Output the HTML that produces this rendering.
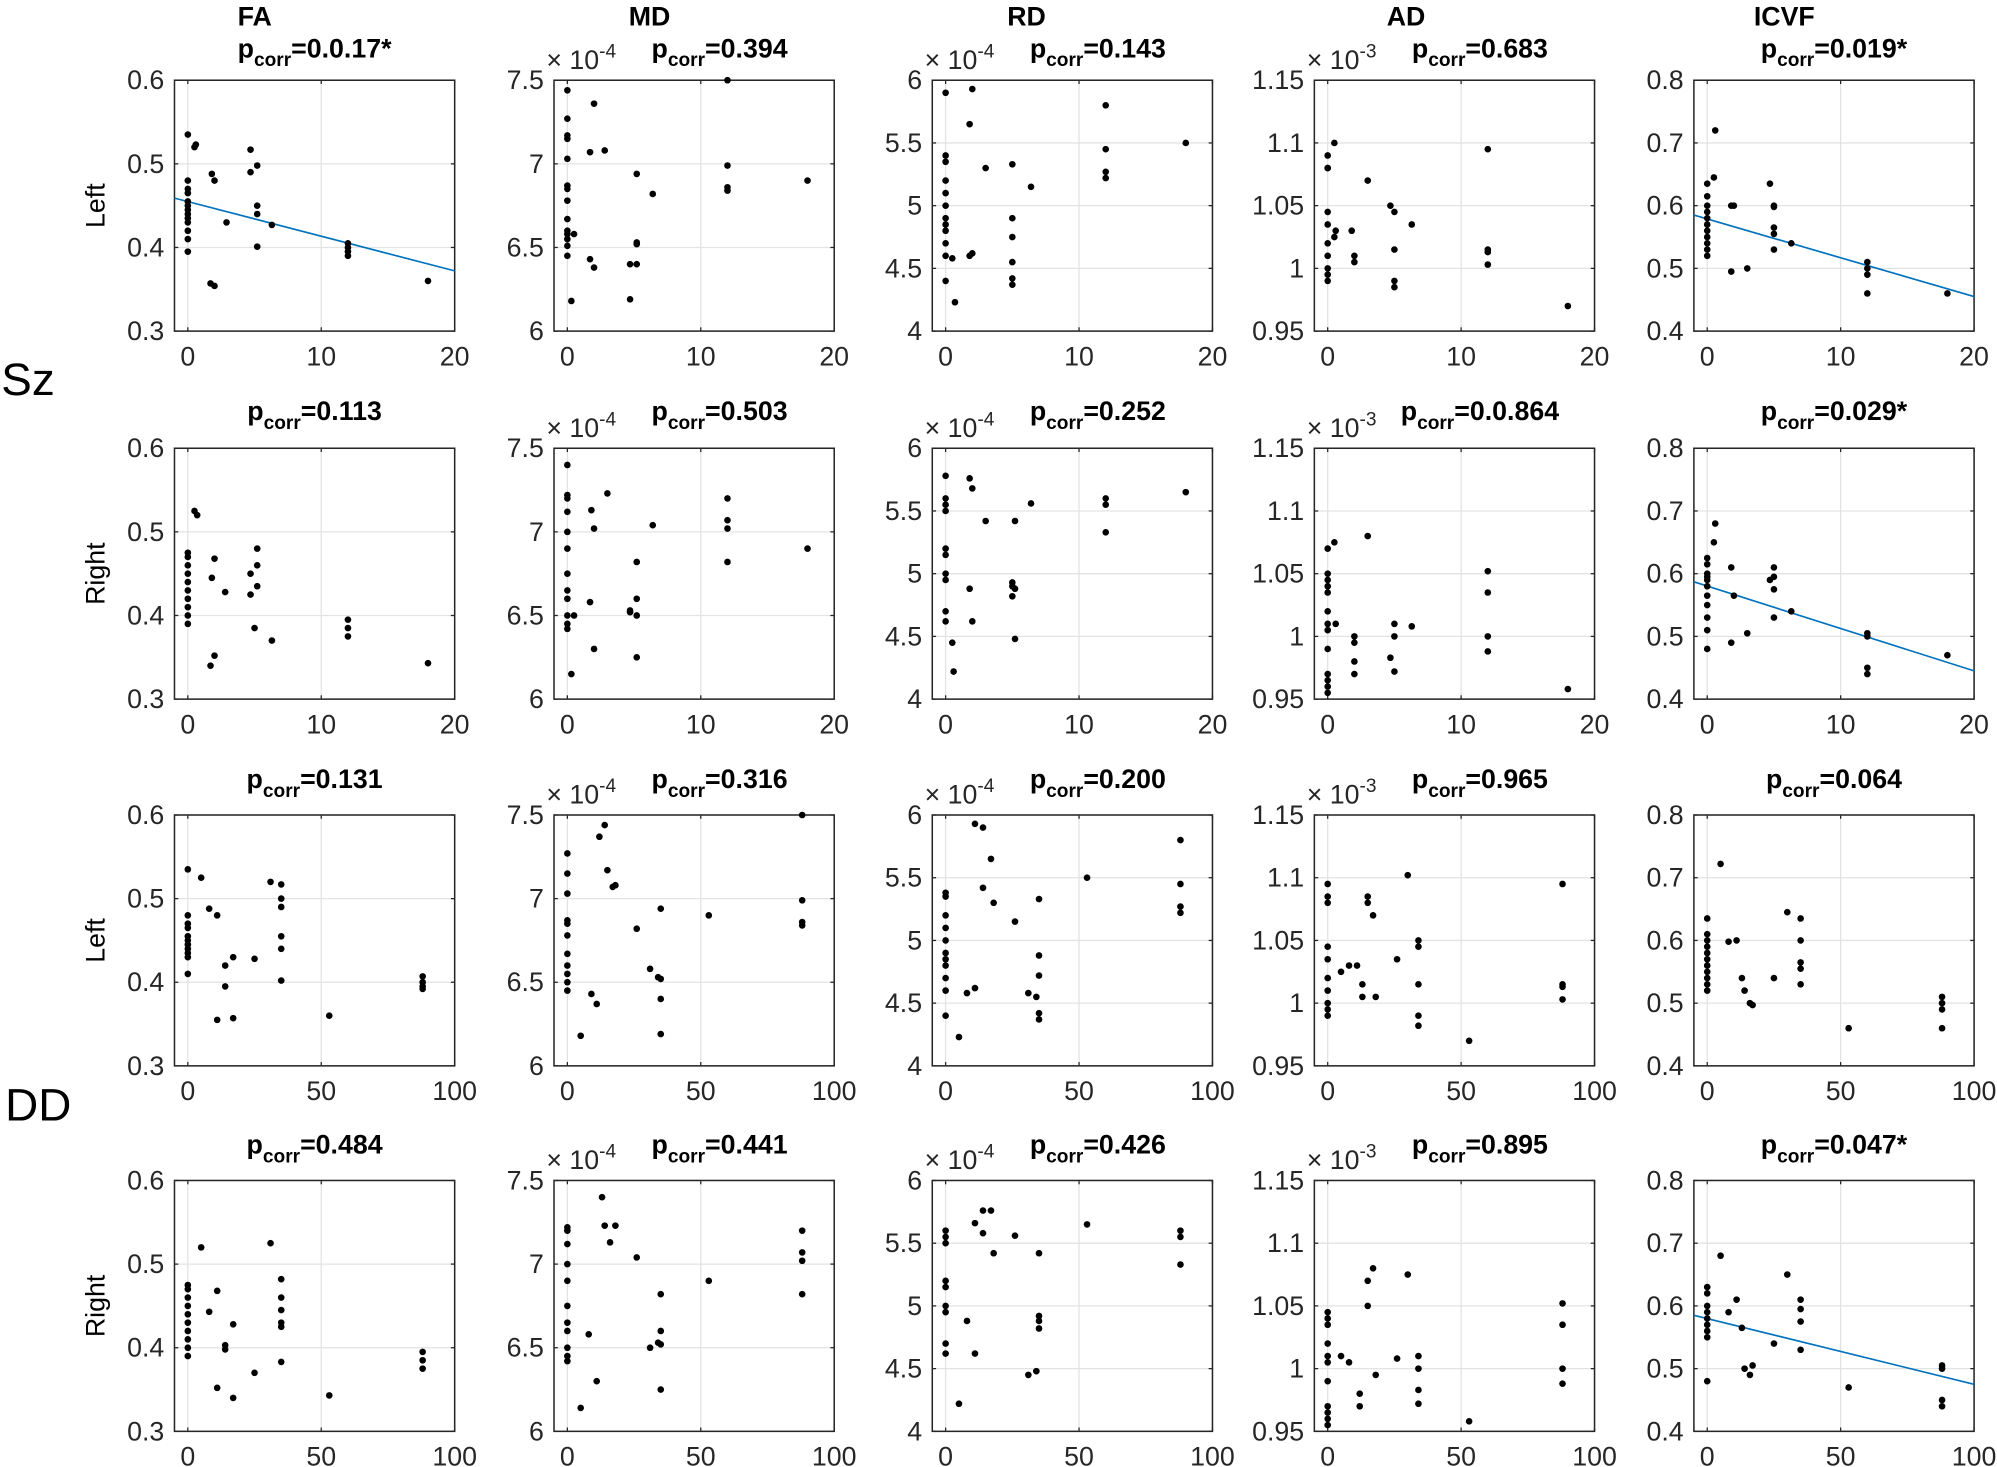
<!DOCTYPE html>
<html><head><meta charset="utf-8"><style>
html,body{margin:0;padding:0;background:#fff;}
svg{display:block;}
text{font-family:"Liberation Sans",sans-serif;}
</style></head><body>
<svg id="s" width="1997" height="1467" viewBox="0 0 1568 1152" preserveAspectRatio="none" xmlns="http://www.w3.org/2000/svg">
<rect width="1568" height="1152" fill="#fff"/>
<text x="22" y="310" font-size="36" text-anchor="middle">Sz</text>
<text x="30" y="880" font-size="36" text-anchor="middle">DD</text>
<text x="200" y="20" font-size="21" font-weight="bold" text-anchor="middle">FA</text>
<text x="510" y="20" font-size="21" font-weight="bold" text-anchor="middle">MD</text>
<text x="806" y="20" font-size="21" font-weight="bold" text-anchor="middle">RD</text>
<text x="1104" y="20" font-size="21" font-weight="bold" text-anchor="middle">AD</text>
<text x="1401" y="20" font-size="21" font-weight="bold" text-anchor="middle">ICVF</text>
</svg>
<script>
var S=document.getElementById('s'),NS='http://www.w3.org/2000/svg';
function el(t,a,txt){var e=document.createElementNS(NS,t);for(var k in a)e.setAttribute(k,a[k]);if(txt!==undefined)e.textContent=txt;S.appendChild(e);return e;}
var colL=[137,435,732,1032,1330],W=220,rowT=[63,352,640,927],H=197;
var yr=[[0.3,0.6,[0.3,0.4,0.5,0.6],['0.3','0.4','0.5','0.6']],
[6,7.5,[6,6.5,7,7.5],['6','6.5','7','7.5']],
[4,6,[4,4.5,5,5.5,6],['4','4.5','5','5.5','6']],
[0.95,1.15,[0.95,1,1.05,1.1,1.15],['0.95','1','1.05','1.1','1.15']],
[0.4,0.8,[0.4,0.5,0.6,0.7,0.8],['0.4','0.5','0.6','0.7','0.8']]];
var exps=[null,'-4','-4','-3',null];
var titles=[["p=0.0.17*","p=0.394","p=0.143","p=0.683","p=0.019*"],
["p=0.113","p=0.503","p=0.252","p=0.0.864","p=0.029*"],
["p=0.131","p=0.316","p=0.200","p=0.965","p=0.064"],
["p=0.484","p=0.441","p=0.426","p=0.895","p=0.047*"]];
var titleY=[45,330,619,906];
var D=[
[[[0,.535],[0,.48],[0,.47],[0,.465],[0,.455],[0,.45],[0,.445],[0,.44],[0,.435],[0,.43],[0,.42],[0,.41],[0,.395],[0.5,.52],[0.6,.523],[1.8,.488],[2,.48],[1.7,.357],[2,.354],[2.9,.43],[4.7,.517],[4.7,.49],[5.2,.498],[5.2,.45],[5.2,.44],[5.2,.401],[6.3,.427],[12,.405],[12,.4],[12,.395],[12,.39],[18,.36]],
[[0,7.44],[0,7.27],[0,7.17],[0,7.15],[0,7.03],[0,6.87],[0,6.85],[0,6.78],[0,6.67],[0,6.6],[0,6.58],[0,6.55],[0,6.51],[0,6.45],[0.5,6.58],[0.3,6.18],[2,7.36],[1.7,7.07],[2.8,7.08],[1.7,6.43],[2,6.38],[4.7,6.4],[5.2,6.4],[4.7,6.19],[5.2,6.94],[5.2,6.53],[5.2,6.52],[6.4,6.82],[12,7.5],[12,6.99],[12,6.86],[12,6.84],[18,6.9]],
[[0,5.9],[0,5.4],[0,5.35],[0,5.2],[0,5.1],[0,5],[0,4.9],[0,4.85],[0,4.8],[0,4.7],[0,4.6],[0,4.4],[0.5,4.58],[0.7,4.23],[1.8,5.65],[2,5.93],[1.8,4.6],[2,4.62],[3,5.3],[5,5.33],[5,4.9],[5,4.75],[5,4.55],[5,4.42],[5,4.37],[6.4,5.15],[12,5.8],[12,5.45],[12,5.27],[12,5.22],[18,5.5]],
[[0,1.09],[0,1.08],[0,1.08],[0,1.045],[0,1.035],[0,1.02],[0,1.01],[0,1],[0,.995],[0,.99],[0.5,1.1],[0.5,1.025],[0.6,1.03],[1.8,1.03],[2,1.01],[2,1.005],[3,1.07],[4.7,1.05],[5,1.045],[5,1.015],[5,.99],[5,.985],[6.3,1.035],[12,1.095],[12,1.015],[12,1.013],[12,1.003],[18,.97]],
[[0,.635],[0,.615],[0,.6],[0,.59],[0,.58],[0,.57],[0,.56],[0,.55],[0,.54],[0,.53],[0,.52],[0.5,.645],[0.6,.72],[1.8,.6],[2,.6],[1.8,.495],[3,.5],[4.7,.635],[5,.6],[5,.598],[5,.565],[5,.555],[5,.53],[6.3,.54],[12,.51],[12,.5],[12,.49],[12,.46],[18,.46]]],
[[[0,.475],[0,.47],[0,.46],[0,.45],[0,.44],[0,.43],[0,.42],[0,.41],[0,.4],[0,.39],[0.5,.525],[0.7,.52],[1.8,.445],[2,.468],[1.7,.34],[2,.352],[2.8,.428],[4.7,.45],[4.7,.425],[5.2,.48],[5.2,.46],[5.2,.435],[5,.385],[6.3,.37],[12,.395],[12,.385],[12,.375],[18,.343]],
[[0,7.4],[0,7.22],[0,7.2],[0,7.12],[0,7],[0,6.9],[0,6.75],[0,6.65],[0,6.6],[0,6.5],[0,6.45],[0,6.42],[0.5,6.5],[0.3,6.15],[1.8,7.13],[2,7.02],[3,7.23],[1.7,6.58],[2,6.3],[4.7,6.53],[4.7,6.52],[5.2,6.82],[5.2,6.6],[5.2,6.5],[5.2,6.25],[6.4,7.04],[12,7.2],[12,7.07],[12,7.02],[12,6.82],[18,6.9]],
[[0,5.78],[0,5.6],[0,5.55],[0,5.5],[0,5.2],[0,5.15],[0,5],[0,4.95],[0,4.7],[0,4.62],[0.5,4.45],[0.6,4.22],[1.8,5.76],[2,5.68],[1.8,4.88],[2,4.62],[3,5.42],[5,4.93],[5,4.9],[5,4.82],[5.2,5.42],[5.2,4.88],[5.2,4.48],[6.4,5.56],[12,5.6],[12,5.55],[12,5.33],[18,5.65]],
[[0,1.07],[0,1.05],[0,1.045],[0,1.04],[0,1.035],[0,1.02],[0,1.01],[0,1.005],[0,.99],[0,.97],[0,.965],[0,.96],[0,.955],[0.5,1.075],[0.6,1.01],[2,1],[2,.995],[2,.98],[2,.97],[3,1.08],[4.7,.983],[5,1.01],[5,1],[5,.972],[6.3,1.008],[12,1.052],[12,1.035],[12,1],[12,.988],[18,.958]],
[[0,.625],[0,.615],[0,.6],[0,.595],[0,.59],[0,.58],[0,.565],[0,.55],[0,.53],[0,.51],[0,.48],[0.5,.65],[0.6,.68],[1.8,.61],[2,.565],[1.8,.49],[3,.505],[4.7,.59],[5,.61],[5,.595],[5,.575],[5,.53],[6.3,.54],[12,.505],[12,.5],[12,.45],[12,.44],[18,.47]]],
[[[0,.535],[0,.48],[0,.47],[0,.465],[0,.455],[0,.45],[0,.445],[0,.44],[0,.435],[0,.43],[0,.41],[5,.525],[8,.488],[11,.48],[11,.355],[14,.42],[14,.395],[17,.43],[17,.357],[25,.428],[31,.52],[35,.517],[35,.5],[35,.49],[35,.455],[35,.44],[35,.402],[53,.36],[88,.407],[88,.4],[88,.395],[88,.392]],
[[0,7.27],[0,7.15],[0,7.03],[0,6.87],[0,6.85],[0,6.78],[0,6.67],[0,6.6],[0,6.55],[0,6.5],[0,6.45],[5,6.18],[9,6.43],[11,6.37],[12,7.37],[14,7.44],[15,7.17],[17,7.07],[18,7.08],[26,6.82],[31,6.58],[34,6.53],[35,6.94],[35,6.52],[35,6.4],[35,6.19],[53,6.9],[88,7.5],[88,6.99],[88,6.86],[88,6.84]],
[[0,5.38],[0,5.35],[0,5.2],[0,5.1],[0,5],[0,4.9],[0,4.85],[0,4.8],[0,4.7],[0,4.6],[0,4.4],[5,4.23],[8,4.58],[11,4.62],[11,5.93],[14,5.9],[14,5.42],[17,5.65],[18,5.3],[26,5.15],[31,4.58],[34,4.55],[35,5.33],[35,4.88],[35,4.72],[35,4.42],[35,4.37],[53,5.5],[88,5.8],[88,5.45],[88,5.27],[88,5.22]],
[[0,1.095],[0,1.085],[0,1.08],[0,1.045],[0,1.035],[0,1.02],[0,1.01],[0,1],[0,.995],[0,.99],[5,1.025],[8,1.03],[11,1.03],[13,1.015],[13,1.005],[15,1.085],[15,1.08],[17,1.07],[18,1.005],[26,1.035],[30,1.102],[34,1.05],[34,1.045],[34,1.015],[34,.99],[34,.982],[53,.97],[88,1.095],[88,1.015],[88,1.013],[88,1.003]],
[[0,.635],[0,.61],[0,.6],[0,.59],[0,.58],[0,.57],[0,.56],[0,.55],[0,.54],[0,.53],[0,.52],[5,.722],[8,.598],[11,.6],[13,.54],[14,.52],[16,.5],[17,.497],[25,.54],[30,.645],[35,.635],[35,.6],[35,.565],[35,.555],[35,.53],[53,.46],[88,.51],[88,.5],[88,.49],[88,.46]]],
[[[0,.475],[0,.47],[0,.46],[0,.45],[0,.44],[0,.43],[0,.42],[0,.41],[0,.4],[0,.39],[5,.52],[8,.443],[11,.468],[11,.352],[14,.403],[14,.398],[17,.428],[17,.34],[25,.37],[31,.525],[35,.482],[35,.46],[35,.445],[35,.43],[35,.425],[35,.383],[53,.343],[88,.395],[88,.385],[88,.375]],
[[0,7.22],[0,7.2],[0,7.12],[0,7],[0,6.9],[0,6.75],[0,6.65],[0,6.6],[0,6.5],[0,6.45],[0,6.42],[5,6.14],[8,6.58],[11,6.3],[13,7.4],[14,7.23],[16,7.13],[18,7.23],[26,7.04],[31,6.5],[34,6.53],[35,6.82],[35,6.6],[35,6.52],[35,6.25],[53,6.9],[88,7.2],[88,7.07],[88,7.02],[88,6.82]],
[[0,5.6],[0,5.55],[0,5.5],[0,5.2],[0,5.15],[0,5],[0,4.95],[0,4.7],[0,4.62],[5,4.22],[8,4.88],[11,4.62],[11,5.66],[14,5.76],[14,5.58],[17,5.76],[18,5.42],[26,5.56],[31,4.45],[34,4.48],[35,5.42],[35,4.92],[35,4.88],[35,4.82],[53,5.65],[88,5.6],[88,5.55],[88,5.33]],
[[0,1.045],[0,1.04],[0,1.035],[0,1.02],[0,1.01],[0,1.005],[0,.99],[0,.97],[0,.965],[0,.96],[0,.955],[5,1.01],[8,1.005],[12,.98],[12,.97],[15,1.07],[15,1.05],[17,1.08],[18,.995],[26,1.008],[30,1.075],[34,1.01],[34,1],[34,.983],[34,.972],[53,.958],[88,1.052],[88,1.035],[88,1],[88,.988]],
[[0,.63],[0,.62],[0,.6],[0,.59],[0,.58],[0,.57],[0,.56],[0,.55],[0,.48],[5,.68],[8,.59],[11,.61],[13,.565],[14,.5],[16,.49],[17,.505],[25,.54],[30,.65],[35,.61],[35,.595],[35,.575],[35,.53],[53,.47],[88,.505],[88,.5],[88,.45],[88,.44]]]];
var lines={'0,0':[.459,.372],'0,4':[.585,.455],'1,4':[.587,.445],'3,4':[.585,.475]};
var rowLab=['Left','Right','Left','Right'];
for(var r=0;r<4;r++){
 var T=rowT[r],B=T+H,xr=r<2?[-1,20,[0,10,20],['0','10','20']]:[-5,100,[0,50,100],['0','50','100']];
 el('text',{x:82,y:T+H/2,'font-size':21,'text-anchor':'middle',transform:'rotate(-90 82 '+(T+H/2)+')'},rowLab[r]);
 for(var c=0;c<5;c++){
  var L=colL[c],R=L+W,y=yr[c];
  var fx=function(v){return L+(v-xr[0])/(xr[1]-xr[0])*W;};
  var fy=function(v){return B-(v-y[0])/(y[1]-y[0])*H;};
  el('rect',{x:L,y:T,width:W,height:H,fill:'#fff'});
  xr[2].forEach(function(v,i){var X=fx(v);el('line',{x1:X,x2:X,y1:T,y2:B,stroke:'#e3e3e3','stroke-width':1});
   el('line',{x1:X,x2:X,y1:B,y2:B-3,stroke:'#262626'});el('line',{x1:X,x2:X,y1:T,y2:T+3,stroke:'#262626'});
   el('text',{x:X,y:B+27,'font-size':21,'text-anchor':'middle',fill:'#262626'},xr[3][i]);});
  y[2].forEach(function(v,i){var Y=fy(v);el('line',{x1:L,x2:R,y1:Y,y2:Y,stroke:'#e3e3e3','stroke-width':1});
   el('line',{x1:L,x2:L+3,y1:Y,y2:Y,stroke:'#262626'});el('line',{x1:R,x2:R-3,y1:Y,y2:Y,stroke:'#262626'});
   el('text',{x:L-8,y:Y+7,'font-size':21,'text-anchor':'end',fill:'#262626'},y[3][i]);});
  el('rect',{x:L,y:T,width:W,height:H,fill:'none',stroke:'#262626','stroke-width':1.2});
  var ln=lines[r+','+c];
  if(ln)el('line',{x1:L,y1:fy(ln[0]),x2:R,y2:fy(ln[1]),stroke:'#0072BD','stroke-width':1.3});
  D[r][c].forEach(function(p){el('circle',{cx:fx(p[0]),cy:fy(p[1]),r:2.6,fill:'#000'});});
  if(exps[c]){var t=el('text',{x:L-6,y:T-9,'font-size':21,fill:'#262626'});
   var a=document.createElementNS(NS,'tspan');a.textContent='\u00d7 10';t.appendChild(a);
   var b=document.createElementNS(NS,'tspan');b.setAttribute('dy','-9');b.setAttribute('font-size','15');b.textContent=exps[c];t.appendChild(b);}
  var s=titles[r][c].slice(1),cx=L+W/2+(exps[c]?20:0);
  var t2=el('text',{x:cx,y:titleY[r],'font-size':21,'font-weight':'bold','text-anchor':'middle',fill:'#000'});
  var p1=document.createElementNS(NS,'tspan');p1.textContent='p';t2.appendChild(p1);
  var p2=document.createElementNS(NS,'tspan');p2.setAttribute('dy','7');p2.setAttribute('font-size','15');p2.textContent='corr';t2.appendChild(p2);
  var p3=document.createElementNS(NS,'tspan');p3.setAttribute('dy','-7');p3.textContent=s;t2.appendChild(p3);
 }
}
</script>
</body></html>
